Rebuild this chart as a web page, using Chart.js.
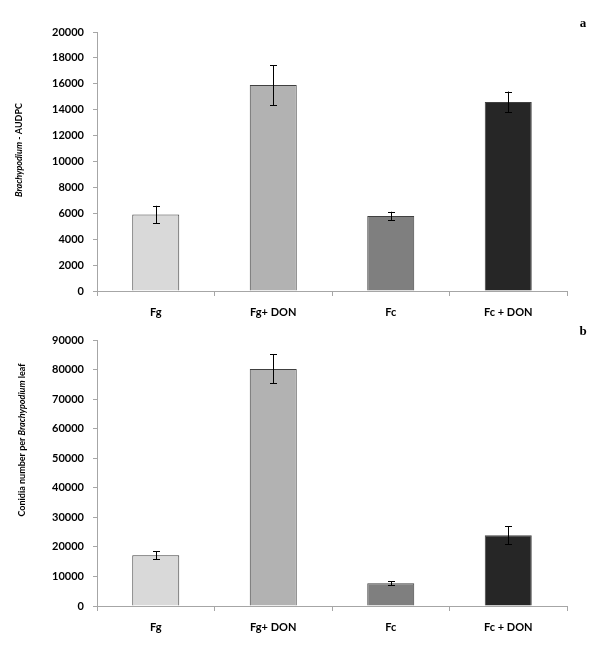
<!DOCTYPE html>
<html>
<head>
<meta charset="utf-8">
<script src="https://cdn.jsdelivr.net/npm/chart.js@4"></script>
<style>
  body { margin: 0; background: #fff; }
  canvas { display: block; }
</style>
</head>
<body>
<canvas id="audpcChart" width="600" height="320"></canvas>
<canvas id="conidiaChart" width="600" height="330"></canvas>
<script>
// categories and values
const categories = ['Fg', 'Fg+ DON', 'Fc', 'Fc + DON'];
const audpcValues = [5900, 15900, 5800, 14600];
const audpcErrors = [680, 1550, 320, 800];
const conidiaValues = [17200, 80200, 7700, 23900];
const conidiaErrors = [1350, 4900, 700, 3000];
const audpcTicks = { max: 20000, step: 2000 };
const conidiaTicks = { max: 90000, step: 10000 };

const barColors = ['#d9d9d9', '#b2b2b2', '#7f7f7f', '#262626'];
const FONT = 'Lato, "Liberation Sans", sans-serif';

// error bars + rotated title (mixed italic) + panel letter
const extras = {
    id: 'extras',
    afterDatasetsDraw(chart, args, opts) {
        const ctx = chart.ctx;
        const x = chart.scales.x, y = chart.scales.y;
        const vals = chart.data.datasets[0].data;
        ctx.save();
        ctx.strokeStyle = '#000';
        ctx.lineWidth = 1;
        vals.forEach((v, i) => {
            const px = Math.round(x.getPixelForValue(i)) + 0.5;
            const top = y.getPixelForValue(v + opts.errors[i]);
            const bot = y.getPixelForValue(v - opts.errors[i]);
            ctx.beginPath();
            ctx.moveTo(px, top); ctx.lineTo(px, bot);
            ctx.moveTo(px - 3.5, Math.round(top) + 0.5); ctx.lineTo(px + 3.5, Math.round(top) + 0.5);
            ctx.moveTo(px - 3.5, Math.round(bot) + 0.5); ctx.lineTo(px + 3.5, Math.round(bot) + 0.5);
            ctx.stroke();
        });
        ctx.restore();
    },
    afterDraw(chart, args, opts) {
        const ctx = chart.ctx;
        ctx.save();
        // y title
        ctx.translate(opts.titleX, opts.titleY);
        ctx.rotate(-Math.PI / 2);
        ctx.fillStyle = '#000';
        ctx.textBaseline = 'middle';
        let total = 0;
        opts.title.forEach(p => {
            ctx.font = (p.italic ? 'italic ' : '') + 'bold 9px ' + FONT;
            total += ctx.measureText(p.text).width;
        });
        let cx = -total / 2;
        opts.title.forEach(p => {
            ctx.font = (p.italic ? 'italic ' : '') + 'bold 9px ' + FONT;
            ctx.fillText(p.text, cx, 0);
            cx += ctx.measureText(p.text).width;
        });
        ctx.restore();
        // panel letter
        ctx.save();
        ctx.font = 'bold 13px "Liberation Serif", serif';
        ctx.fillStyle = '#000';
        ctx.textAlign = 'center';
        ctx.textBaseline = 'middle';
        ctx.fillText(opts.letter, 583, opts.letterY);
        ctx.restore();
    }
};

function makeChart(id, values, errors, ticks, padTop, xHeight, title, titleX, titleY, letter, letterY) {
    return new Chart(document.getElementById(id), {
        type: 'bar',
        data: {
            labels: categories,
            datasets: [{
                data: values,
                backgroundColor: barColors,
                borderColor: '#404040',
                borderWidth: 1,
                barPercentage: 0.4,
                categoryPercentage: 1.0
            }]
        },
        options: {
            responsive: false,
            animation: false,
            layout: { padding: { left: 0, right: 33, top: padTop, bottom: 0 } },
            plugins: {
                legend: { display: false },
                tooltip: { enabled: false },
                extras: { errors: errors, title: title, titleX: titleX, titleY: titleY, letter: letter, letterY: letterY }
            },
            scales: {
                x: {
                    offset: true,
                    grid: { display: true, offset: true, drawOnChartArea: false, tickLength: 5, color: '#a6a6a6' },
                    border: { color: '#a6a6a6' },
                    ticks: { color: '#000', font: { family: FONT, size: 11, weight: 'bold' }, padding: 10 },
                    afterFit(scale) { scale.height = xHeight; }
                },
                y: {
                    min: 0,
                    max: ticks.max,
                    grid: { display: true, drawOnChartArea: false, tickLength: 4, color: '#a6a6a6' },
                    border: { color: '#a6a6a6' },
                    ticks: {
                        stepSize: ticks.step, color: '#000', padding: 9,
                        font: { family: FONT, size: 11, weight: 'bold' },
                        callback: v => String(v)
                    },
                    afterFit(scale) { scale.width = 97; }
                }
            }
        },
        plugins: [extras]
    });
}

makeChart('audpcChart', audpcValues, audpcErrors, audpcTicks, 32, 29,
    [{ text: 'Brachypodium', italic: true }, { text: ' - AUDPC', italic: false }], 19, 150, 'a', 24);
makeChart('conidiaChart', conidiaValues, conidiaErrors, conidiaTicks, 20, 44,
    [{ text: 'Conidia number per ', italic: false }, { text: 'Brachypodium', italic: true }, { text: ' leaf', italic: false }], 22, 120, 'b', 12);
</script>
</body>
</html>
